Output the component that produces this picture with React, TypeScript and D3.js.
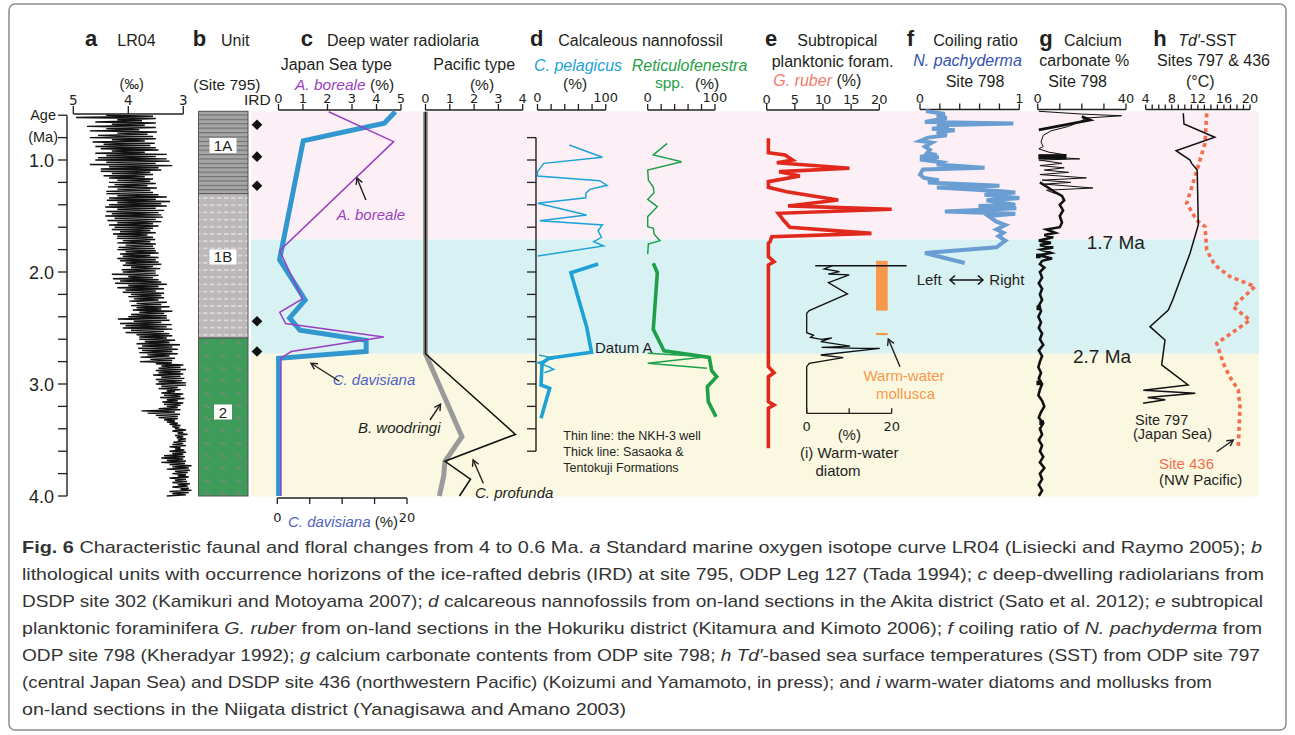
import React from "react";
import * as d3 from "d3";

// ------------------------------------------------------------------ DATA
// LR04 benthic d18O (permil), read every 0.01 Ma from 0.60 to 4.00 Ma
const LR04_START = 0.6;
const LR04_STEP = 0.01;
const LR04 = [
  4.4, 3.55, 4.95, 3.5, 4.2, 3.75, 4.6, 3.5, 4.3, 3.7,
  4.75, 3.5, 4.4, 3.8, 4.7, 3.48, 4.2, 3.65, 4.55, 3.55,
  4.7, 3.5, 4.3, 3.7, 4.65, 3.52, 4.45, 3.6, 4.6, 3.5,
  4.5, 3.45, 4.3, 3.7, 4.6, 3.3, 4.4, 3.5, 4.55, 3.3,
  4.6, 3.25, 4.4, 3.5, 4.7, 3.2, 4.35, 3.45, 4.5, 3.4,
  4.5, 3.6, 4.3, 3.55, 4.45, 3.7, 4.35, 3.55, 4.2, 3.6,
  4.35, 3.5, 4.25, 3.65, 4.37, 3.48, 4.2, 3.6, 4.4, 3.55,
  4.4, 3.45, 4.2, 3.3, 4.35, 3.5, 4.39, 3.24, 4.2, 3.4,
  4.35, 3.3, 4.42, 3.5, 4.2, 3.35, 4.4, 3.45, 4.3, 3.4,
  4.42, 3.37, 4.25, 3.5, 4.38, 3.4, 4.2, 3.55, 4.35, 3.45,
  4.25, 3.55, 4.3, 3.6, 4.15, 3.5, 4.28, 3.65, 4.2, 3.55,
  4.21, 3.51, 4.1, 3.6, 4.2, 3.5, 4.05, 3.55, 4.18, 3.52,
  4.2, 3.5, 4.05, 3.45, 4.15, 3.6, 4.1, 3.45, 4.2, 3.5,
  4.15, 3.45, 4.05, 3.4, 4.1, 3.55, 3.95, 3.42, 4.12, 3.5,
  4.1, 3.5, 4.3, 3.45, 4.0, 3.55, 4.28, 3.45, 4.15, 3.4,
  4.24, 3.3, 4.0, 3.45, 4.2, 3.35, 4.05, 3.5, 4.1, 3.35,
  3.95, 3.4, 4.0, 3.35, 3.9, 3.45, 3.98, 3.3, 3.85, 3.4,
  3.95, 3.25, 3.85, 3.4, 3.92, 3.2, 3.8, 3.35, 3.95, 3.3,
  4.0, 3.3, 4.19, 3.25, 3.9, 3.4, 4.15, 3.21, 4.05, 3.3,
  4.1, 3.2, 3.95, 3.35, 4.05, 3.25, 3.85, 3.2, 3.8, 3.3,
  3.8, 3.15, 3.7, 3.25, 3.85, 3.06, 3.75, 3.2, 3.82, 3.1,
  3.75, 3.2, 3.8, 3.1, 3.65, 3.25, 3.78, 3.15, 3.6, 3.2,
  3.79, 3.21, 3.5, 3.0, 3.4, 3.05, 3.45, 2.95, 3.5, 3.05,
  3.45, 3.0, 3.55, 3.05, 3.4, 2.98, 3.5, 3.02, 3.45, 2.95,
  3.5, 2.95, 3.4, 3.1, 3.45, 3.05, 3.3, 3.15, 3.4, 3.0,
  3.35, 3.05, 3.42, 2.98, 3.3, 3.1, 3.38, 3.0, 3.35, 3.05,
  3.3, 3.1, 3.45, 3.05, 3.76, 3.15, 3.65, 3.06, 3.5, 3.1,
  3.45, 3.1, 3.35, 3.15, 3.3, 3.1, 3.25, 3.05, 3.2, 3.1,
  3.15, 2.95, 3.2, 3.0, 3.1, 2.92, 3.15, 3.0, 3.12, 2.95,
  3.1, 2.95, 3.18, 3.0, 3.2, 2.95, 3.25, 3.05, 3.15, 2.98,
  3.25, 2.95, 3.2, 3.0, 3.35, 2.97, 3.4, 3.0, 3.3, 2.95,
  3.4, 2.97, 3.25, 2.85, 3.2, 2.9, 3.3, 2.88, 3.15, 2.92,
  3.2, 2.95, 3.1, 2.9, 3.25, 2.95, 3.15, 2.93, 3.2, 2.88,
  3.1, 2.92, 3.2, 2.9, 3.05, 2.85, 3.25, 2.9, 3.2, 2.95,
  3.3,
];

// Background intervals (Ma)
const BAND_EDGES = [0.565, 1.71, 2.73, 4.005];

// Lithological units at site 795 (Ma)
const UNITS = [
  { name: "1A", top: 0.565, bottom: 1.3, labelAge: 0.87 },
  { name: "1B", top: 1.3, bottom: 2.59, labelAge: 1.866 },
  { name: "2", top: 2.59, bottom: 4.0, labelAge: 3.25 },
];
const IRD_AGES = [0.685, 0.97, 1.23, 2.44, 2.71];

// c: deep water radiolaria  [age, %]
const C_DAVISIANA = [[0.569, 18.2], [0.672, 16.5], [0.828, 4.0], [1.89, 0.35], [2.25, 4.3], [2.41, 1.9], [2.52, 3.5], [2.61, 13.7], [2.71, 13.7], [2.77, 0.2], [4.0, 0.2]];
const A_BOREALE = [[0.569, 2.05], [0.836, 4.7], [1.81, 0.05], [2.24, 0.97], [2.36, 0.05], [2.46, 0.29], [2.58, 4.3], [2.71, 0.52], [2.77, 0.1], [4.0, 0.1]];
const B_WOODRINGI = [[0.569, 0], [2.73, 0], [3.47, 1.5], [3.69, 0.8], [3.82, 0.75], [4.0, 0.57]];
const C_PROFUNDA = [[0.569, 0], [2.73, 0], [3.45, 3.7], [3.69, 0.8], [3.85, 1.85], [4.0, 1.4]];

// d: calcareous nannofossils [age, %]
const PEL_THIN_UPPER = [[0.866, 46.6], [0.976, 95.2], [1.03, 9.2], [1.104, 0], [1.143, 0], [1.185, 91.2], [1.226, 101.9], [1.262, 76.7], [1.297, 70.9], [1.337, 70.9], [1.387, 0.4], [1.491, 72], [1.542, 3.3], [1.58, 95.2], [1.631, 88.8], [1.69, 93.7], [1.729, 82.5], [1.768, 96.9], [1.857, 0.4]];
const PEL_THIN_LOWER = [[2.741, 2], [2.77, 24], [2.81, 0], [2.846, 16.4], [2.869, 23.7], [2.899, 10]];
const PEL_THICK = [[1.929, 89], [2.006, 49], [2.488, 72], [2.717, 79.2], [2.77, 16.4], [2.815, 6.7], [3.009, 5.2], [3.038, 17.8], [3.306, 5.2]];
const RET_THIN_UPPER = [[0.851, 29], [0.955, 8.3], [1.015, 50.5], [1.089, 0], [1.179, 1], [1.244, 8.3], [1.292, 9.4], [1.351, 0], [1.417, 14.3], [1.506, 0], [1.595, 0], [1.61, 8.5], [1.66, 9.4], [1.72, 18.3], [1.75, 1], [1.839, 0]];
const RET_THIN_LOWER = [[2.726, 0], [2.756, 88], [2.815, 0], [2.86, 88]];
const RET_THICK = [[1.922, 8.3], [2.006, 14.3], [2.512, 8.3], [2.703, 24.2], [2.762, 91.5], [2.881, 95.1], [2.935, 102.5], [3.024, 88.6], [3.158, 90], [3.292, 101.5]];

// e: G. ruber [age, %]
const G_RUBER = [[0.806, 0.3], [0.935, 0.3], [0.955, 3.25], [1.0, 4.6], [1.024, 1.8], [1.074, 14.7], [1.104, 2.2], [1.143, 5.9], [1.193, 0.3], [1.244, 0.3], [1.283, 3.55], [1.357, 12.7], [1.41, 3.8], [1.44, 22.2], [1.476, 2.06], [1.536, 2.96], [1.601, 4.1], [1.655, 18.6], [1.685, 0.9], [1.729, 0.6], [1.744, 0.3], [1.863, 0.3], [1.908, 1.3], [1.938, 0.3], [2.845, 0.3], [2.899, 1.3], [2.935, 0.3], [3.158, 0.3], [3.188, 1.3], [3.217, 0.3], [3.574, 0.3]];

// i: warm-water diatom [age, %]
const DIATOM_TOP = [[1.944, 2.0], [1.944, 23.5]];
const DIATOM = [[1.944, 6.0], [1.952, 5.5], [1.973, 4.1], [1.997, 7.7], [2.018, 5.1], [2.025, 10.0], [2.095, 5.1], [2.196, 9.6], [2.345, 0.6], [2.369, 0], [2.542, 0], [2.565, 1.6], [2.583, 0.9], [2.601, 3.5], [2.589, 5.9], [2.622, 3.3], [2.661, 10.2], [2.673, 3.5], [2.682, 12.5], [2.682, 17.2], [2.741, 3.3], [2.765, 8.6], [2.8, 3.0], [2.815, 0.6], [2.845, 0], [3.262, 0]];
const MOLLUSCA_RANGE = [1.9, 2.345];
const MOLLUSCA_POINT = 2.554;

// f: coiling ratio [age, ratio]
const COILING = [[0.563, 0.06], [0.59, 0.25], [0.61, 0.17], [0.625, 0.27], [0.66, 0.05], [0.675, 0.94], [0.69, 0.17], [0.705, 0.29], [0.72, 0.12], [0.735, 0.35], [0.75, 0.17], [0.78, 0.27], [0.8, 0.08], [0.83, 0.0], [0.845, 0.12], [0.88, 0.05], [0.91, 0.1], [0.94, 0.07], [0.955, 0.17], [0.97, 0.0], [0.975, 0.19], [0.995, 0.0], [1.02, 0.22], [1.04, 0.17], [1.07, 0.65], [1.085, 0.03], [1.13, 0.0], [1.16, 0.04], [1.18, 0.19], [1.2, 0.08], [1.23, 0.8], [1.245, 0.17], [1.28, 0.82], [1.29, 0.96], [1.31, 0.65], [1.34, 1.0], [1.36, 0.67], [1.4, 0.96], [1.41, 0.59], [1.43, 0.97], [1.46, 0.25], [1.48, 0.96], [1.5, 0.69], [1.55, 0.77], [1.58, 0.86], [1.62, 0.77], [1.65, 0.84], [1.68, 0.79], [1.72, 0.86], [1.78, 0.77], [1.83, 0.05], [1.92, 0.45]];

// g: calcium carbonate [age, %]
const CA_THIN = [[0.565, 0.5], [0.59, 20], [0.605, 38], [0.625, 22], [0.66, 19], [0.7, 14], [0.74, 6], [0.78, 2.5], [0.81, 2], [0.84, 1.5], [0.88, 2.5], [0.9, 0.5], [0.93, 5], [0.955, 13], [0.965, 0.5], [0.99, 19], [1.0, 0.5], [1.03, 11], [1.05, 1], [1.07, 12], [1.09, 3], [1.11, 14], [1.13, 1], [1.16, 22], [1.18, 2], [1.2, 15], [1.215, 3], [1.25, 25], [1.27, 4], [1.3, 8]];
const CA_THICK_TOP = [[0.613, 20], [0.643, 23.7], [0.732, 0.5]];
const CA_BLOCK = [[0.97, 0.3], [0.97, 13]];
const CA_THICK = [[1.2, 1], [1.25, 5], [1.29, 8], [1.32, 11], [1.36, 12], [1.4, 10], [1.45, 11.5], [1.5, 10], [1.56, 11], [1.6, 10], [1.62, 4], [1.65, 8], [1.67, 3], [1.69, 7], [1.72, 0.5], [1.74, 6], [1.76, 1], [1.78, 7], [1.8, 1.5], [1.83, 6], [1.85, 0.5], [1.88, 6.5], [1.9, 2], [1.93, 1], [1.96, 3], [2.0, 1], [2.05, 2], [2.1, 0.5], [2.15, 2], [2.2, 1], [2.25, 2], [2.3, 0.5], [2.35, 1.5], [2.4, 0.3], [2.45, 1.5], [2.5, 0.5], [2.55, 2], [2.6, 1], [2.65, 2.5], [2.7, 0.5], [2.75, 2], [2.8, 1], [2.85, 0.3], [2.9, 1.5], [2.95, 0.5], [3.0, 2], [3.05, 1], [3.1, 0.3], [3.15, 2], [3.2, 3], [3.25, 1.5], [3.3, 0.5], [3.35, 2.5], [3.4, 1], [3.45, 2], [3.5, 0.5], [3.55, 2], [3.6, 1], [3.65, 2.5], [3.7, 1], [3.75, 3], [3.8, 1], [3.85, 2], [3.9, 0.5], [3.95, 2], [4.0, 0.5]];
const CA_SQUARES = [[1.857, 0.3], [2.32, 0.5], [2.99, 0.5], [3.345, 1.8]];

// h: Td'-SST [age, degC]
const SST_797 = [[0.583, 9.77], [0.679, 9.87], [0.797, 14.6], [0.917, 8.65], [1.0, 10.8], [1.03, 11.05], [1.089, 11.9], [1.58, 12.07], [1.833, 10.8], [2.25, 8.14], [2.339, 7.47], [2.488, 4.66], [2.607, 6.96], [2.83, 6.45], [3.009, 10.5], [3.056, 3.63], [3.083, 11.6], [3.12, 4.3], [3.14, 7.0], [3.172, 3.6]];
const SST_436 = [[0.583, 13.36], [0.851, 13.1], [1.0, 12.33], [1.149, 11.56], [1.387, 10.3], [1.536, 11.8], [1.595, 13.1], [1.804, 13.36], [1.938, 14.6], [2.04, 16.9], [2.13, 20.77], [2.31, 17.4], [2.43, 20], [2.637, 14.9], [2.815, 15.9], [2.935, 16.9], [3.054, 18.2], [3.2, 18.46], [3.574, 18.2]];

// tick values
const AGE_LABELS = [1.0, 2.0, 3.0, 4.0];
const LR04_TICKS = [5, 4, 3];
const ABO_TICKS = [0, 1, 2, 3, 4, 5];
const PAC_TICKS = [0, 1, 2, 3, 4];
const DAV_TICKS = [0, 5, 10, 15, 20];
const DAV_LABELS = [0, 20];
const PCT100_TICKS = [0, 20, 40, 60, 80, 100];
const PCT100_LABELS = [0, 100];
const RUBER_TICKS = [0, 5, 10, 15, 20];
const DIATOM_TICKS = [0, 10, 20];
const DIATOM_LABELS = [0, 20];
const COIL_TICKS = [0, 0.2, 0.4, 0.6, 0.8, 1];
const COIL_LABELS = [0, 1];
const CA_TICKS = [0, 10, 20, 30, 40];
const CA_LABELS = [0, 40];
const SST_TICKS = d3.range(4, 21, 1);
const SST_LABELS = [4, 8, 12, 16, 20];

const CAPTION = [
  [["b", "Fig. 6"], ["n", " Characteristic faunal and floral changes from 4 to 0.6 Ma. "], ["i", "a"], ["n", " Standard marine oxygen isotope curve LR04 (Lisiecki and Raymo 2005); "], ["i", "b"]],
  [["n", "lithological units with occurrence horizons of the ice-rafted debris (IRD) at site 795, ODP Leg 127 (Tada 1994); "], ["i", "c"], ["n", " deep-dwelling radiolarians from"]],
  [["n", "DSDP site 302 (Kamikuri and Motoyama 2007); "], ["i", "d"], ["n", " calcareous nannofossils from on-land sections in the Akita district (Sato et al. 2012); "], ["i", "e"], ["n", " subtropical"]],
  [["n", "planktonic foraminifera "], ["i", "G. ruber"], ["n", " from on-land sections in the Hokuriku district (Kitamura and Kimoto 2006); "], ["i", "f"], ["n", " coiling ratio of "], ["i", "N. pachyderma"], ["n", " from"]],
  [["n", "ODP site 798 (Kheradyar 1992); "], ["i", "g"], ["n", " calcium carbonate contents from ODP site 798; "], ["i", "h Td′"], ["n", "-based sea surface temperatures (SST) from ODP site 797"]],
  [["n", "(central Japan Sea) and DSDP site 436 (northwestern Pacific) (Koizumi and Yamamoto, in press); and "], ["i", "i"], ["n", " warm-water diatoms and mollusks from"]],
  [["n", "on-land sections in the Niigata district (Yanagisawa and Amano 2003)"]],
];
const CAPTION_WIDTHS = [1240, 1242, 1241, 1240, 1238, 1190, 604];

// ------------------------------------------------------------------ STYLE
const FONT = '"Liberation Sans", Arial, Helvetica, sans-serif';
const NUMFONT = '"DejaVu Sans", "Liberation Sans", Arial, sans-serif';
const INK = "#231f20";
const COL = {
  pink: "#fcf0f6",
  cyan: "#d8f2f4",
  yellow: "#fbf8e2",
  davis: "#3397cf",
  davisText: "#5062c2",
  boreale: "#9b3fc2",
  pacGray: "#9a9a9a",
  pel: "#1ea2d6",
  ret: "#1ea04a",
  retText: "#27a045",
  ruber: "#e0281c",
  ruberText: "#f27a6c",
  coil: "#6a9dd2",
  pachText: "#3553ad",
  sst436: "#f46d4c",
  moll: "#f7984a",
};
const BAND_COLORS = [COL.pink, COL.cyan, COL.yellow];

// ------------------------------------------------------------------ SCALES
const yAge = d3.scaleLinear().domain([1, 4]).range([160, 496]);
const xLR = d3.scaleLinear().domain([5, 3]).range([73.3, 183.3]);
const xAbo = d3.scaleLinear().domain([0, 5]).range([278.5, 401]);
const xDav = d3.scaleLinear().domain([0, 20]).range([277.3, 407]);
const xPac = d3.scaleLinear().domain([0, 4]).range([425.5, 522.7]);
const xPel = d3.scaleLinear().domain([0, 100]).range([537.5, 605.7]);
const xRet = d3.scaleLinear().domain([0, 100]).range([647.7, 715]);
const xRub = d3.scaleLinear().domain([0, 20]).range([766.7, 879.3]);
const xDia = d3.scaleLinear().domain([0, 20]).range([806.7, 891.7]);
const xCoil = d3.scaleLinear().domain([0, 1]).range([920, 1019.3]);
const xCa = d3.scaleLinear().domain([0, 40]).range([1037.7, 1126]);
const xSst = d3.scaleLinear().domain([4, 20]).range([1145.7, 1250]);

const BAND_X0 = 251;
const BAND_X1 = 1259;

function linePath(xs: any, data: number[][]) {
  return d3
    .line<number[]>()
    .x((d) => xs(d[1]))
    .y((d) => yAge(d[0]))(data) as string;
}

// ------------------------------------------------------------------ HELPERS
function T(props: any) {
  const { children, size = 16, anchor = "start", color = INK, weight, italic, family, ...rest } = props;
  return (
    <text
      fontFamily={family || FONT}
      fontSize={size}
      textAnchor={anchor}
      fill={color}
      fontWeight={weight}
      fontStyle={italic ? "italic" : undefined}
      {...rest}
    >
      {children}
    </text>
  );
}

function HAxis({ scale, y, ticks, labels, tickLen = 6, dir = -1, labelY, fmt, size = 13 }: any) {
  const r = scale.range();
  const x0 = Math.min(r[0], r[1]);
  const x1 = Math.max(r[0], r[1]);
  return (
    <g>
      <line x1={x0} x2={x1} y1={y} y2={y} stroke={INK} strokeWidth={1.4} />
      {ticks.map((t: number) => (
        <line key={"t" + t} x1={scale(t)} x2={scale(t)} y1={y} y2={y + dir * tickLen} stroke={INK} strokeWidth={1.3} />
      ))}
      {labels.map((t: number) => (
        <text key={"l" + t} x={scale(t)} y={labelY} textAnchor="middle" fontFamily={NUMFONT} fontSize={size} fill={INK}>
          {fmt ? fmt(t) : String(t)}
        </text>
      ))}
    </g>
  );
}

function Arrow({ x1, y1, x2, y2, color = INK }: any) {
  const a = Math.atan2(y2 - y1, x2 - x1);
  const L = 7;
  const s = 0.5;
  const p1 = [x2 - L * Math.cos(a - s), y2 - L * Math.sin(a - s)];
  const p2 = [x2 - L * Math.cos(a + s), y2 - L * Math.sin(a + s)];
  return (
    <g stroke={color} strokeWidth={1.4} fill="none">
      <line x1={x1} y1={y1} x2={x2} y2={y2} />
      <polyline points={`${p1[0]},${p1[1]} ${x2},${y2} ${p2[0]},${p2[1]}`} />
    </g>
  );
}

// ------------------------------------------------------------------ APP
export default function App() {
  const ageTicks = d3.range(0.6, 4.001, 0.2);
  const dTicks = d3.range(0.8, 3.601, 0.2);
  const lrData = LR04.map((v, i) => [LR04_START + i * LR04_STEP, v]);
  const diamond = d3.symbol().type(d3.symbolDiamond2).size(72)() as string;
  const square = d3.symbol().type(d3.symbolSquare).size(22)() as string;

  return (
    <div style={{ position: "absolute", left: 0, top: 0 }}>
      <svg width={1295} height={735} viewBox="0 0 1295 735" style={{ display: "block", background: "#fff" }}>
        <defs>
          <pattern id="p1A" width={8} height={4.4} patternUnits="userSpaceOnUse">
            <rect width={8} height={4.4} fill="#a6a6a6" />
            <line x1={0} x2={8} y1={0.6} y2={0.6} stroke="#6c6c6c" strokeWidth={1.1} />
          </pattern>
          <pattern id="p1B" width={14} height={7.2} patternUnits="userSpaceOnUse">
            <rect width={14} height={7.2} fill="#bcb8b9" />
            <line x1={0} x2={14} y1={3.6} y2={3.6} stroke="#e6e3e4" strokeWidth={1.2} strokeDasharray="4.5,2.5" />
          </pattern>
          <pattern id="p2" width={16} height={12.5} patternUnits="userSpaceOnUse" x={201}>
            <rect width={16} height={12.5} fill="#3f9b59" />
            <path d="M3,6 q1.5,-2.4 3,0 t3,0" stroke="#b07aa8" strokeWidth={0.8} fill="none" />
          </pattern>
        </defs>

        {/* figure frame */}
        <rect x={9} y={4} width={1277} height={726} rx={6} fill="none" stroke="#8c8c8c" strokeWidth={1.5} />

        {/* background bands */}
        {BAND_COLORS.map((c, i) => (
          <rect key={i} x={BAND_X0} width={BAND_X1 - BAND_X0} y={yAge(BAND_EDGES[i])} height={yAge(BAND_EDGES[i + 1]) - yAge(BAND_EDGES[i])} fill={c} />
        ))}

        {/* ---------------- Age axis ---------------- */}
        <line x1={67} x2={67} y1={yAge(0.6)} y2={yAge(4.0)} stroke={INK} strokeWidth={1.4} />
        {ageTicks.map((t) => (
          <line key={t} x1={58} x2={67} y1={yAge(t)} y2={yAge(t)} stroke={INK} strokeWidth={1.3} />
        ))}
        {AGE_LABELS.map((t) => (
          <T key={t} x={54} y={yAge(t) + 6.5} size={18} anchor="end">{t.toFixed(1)}</T>
        ))}
        <T x={56} y={119.5} size={14.5} anchor="end">Age</T>
        <T x={58} y={142} size={14.5} anchor="end">(Ma)</T>

        {/* ---------------- a LR04 ---------------- */}
        <T x={85} y={46} size={22} weight="bold">a</T>
        <T x={117.3} y={46} size={16}>LR04</T>
        <T x={131.7} y={88.5} size={14.5} anchor="middle">(‰)</T>
        <HAxis scale={xLR} y={114} ticks={LR04_TICKS} labels={LR04_TICKS} tickLen={8} labelY={104.5} size={13.5} />
        <path d={linePath(xLR, lrData)} fill="none" stroke="#111" strokeWidth={1.45} strokeLinejoin="miter" />

        {/* ---------------- b Unit ---------------- */}
        <T x={192.7} y={46} size={22} weight="bold">b</T>
        <T x={221} y={46} size={16}>Unit</T>
        <T x={193.3} y={90} size={15.5}>(Site 795)</T>
        <T x={244} y={105} size={15.5}>IRD</T>
        {UNITS.map((u, i) => (
          <rect key={u.name} x={198.5} width={49.5} y={yAge(u.top)} height={yAge(u.bottom) - yAge(u.top)} fill={`url(#${["p1A", "p1B", "p2"][i]})`} stroke="#555" strokeWidth={1} />
        ))}
        {UNITS.map((u) => {
          const w = u.name.length * 9 + 9;
          return (
            <g key={"l" + u.name}>
              <rect x={223 - w / 2} y={yAge(u.labelAge) - 7.5} width={w} height={15} fill="#fff" />
              <T x={223} y={yAge(u.labelAge) + 5.5} size={15} anchor="middle">{u.name}</T>
            </g>
          );
        })}
        {IRD_AGES.map((a) => (
          <path key={a} d={diamond} transform={`translate(257,${yAge(a)})`} fill="#111" />
        ))}

        {/* ---------------- c Deep water radiolaria ---------------- */}
        <T x={300.7} y={46} size={22} weight="bold">c</T>
        <T x={327} y={46} size={16}>Deep water radiolaria</T>
        <T x={280.7} y={70} size={16}>Japan Sea type</T>
        <T x={295} y={90} size={15.5}>
          <tspan fill={COL.boreale} fontStyle="italic">A. boreale</tspan> (%)
        </T>
        <T x={433.3} y={70} size={16}>Pacific type</T>
        <T x={482} y={90} size={15.5} anchor="middle">(%)</T>
        <HAxis scale={xAbo} y={110} ticks={ABO_TICKS} labels={ABO_TICKS} labelY={102.5} />
        <HAxis scale={xPac} y={110} ticks={PAC_TICKS} labels={PAC_TICKS} labelY={102.5} />
        <HAxis scale={xDav} y={498} ticks={DAV_TICKS} labels={DAV_LABELS} dir={1} labelY={522} />
        <T x={288} y={527} size={15}>
          <tspan fill={COL.davisText} fontStyle="italic">C. davisiana</tspan> (%)
        </T>
        <path d={linePath(xDav, C_DAVISIANA)} fill="none" stroke={COL.davis} strokeWidth={5} strokeLinejoin="miter" />
        <path d={linePath(xAbo, A_BOREALE)} fill="none" stroke={COL.boreale} strokeWidth={1.5} />
        <path d={linePath(xPac, B_WOODRINGI)} fill="none" stroke={COL.pacGray} strokeWidth={5} />
        <path d={linePath(xPac, C_PROFUNDA)} fill="none" stroke="#111" strokeWidth={1.6} />
        <T x={336.7} y={219.5} size={15} italic color={COL.boreale}>A. boreale</T>
        <Arrow x1={xAbo(3.2) + 9} y1={yAge(1.16) + 22} x2={xAbo(3.2)} y2={yAge(1.16)} />
        <T x={332.7} y={384.5} size={15} italic color={COL.davisText}>C. davisiana</T>
        <Arrow x1={xDav(7.4) + 14} y1={yAge(2.77) + 23} x2={xDav(5.2)} y2={yAge(2.77) + 5} />
        <T x={358} y={433} size={15} italic>B. woodringi</T>
        <Arrow x1={430} y1={420} x2={xPac(0.62)} y2={yAge(3.18)} />
        <T x={475} y={498} size={15} italic>C. profunda</T>
        <Arrow x1={483.3} y1={483.3} x2={xPac(1.96)} y2={yAge(3.66) + 2} />

        {/* ---------------- d Calcareous nannofossil ---------------- */}
        <T x={530} y={46} size={22} weight="bold">d</T>
        <T x={558.3} y={46} size={16}>Calcaleous nannofossil</T>
        <T x={534} y={70.5} size={16} italic color={COL.pel}>C. pelagicus</T>
        <T x={563} y={89} size={15.5}>(%)</T>
        <T x={631.7} y={70.5} size={16} italic color={COL.retText}>Reticulofenestra</T>
        <T x={655} y={88} size={15.5} color={COL.retText}>spp.</T>
        <T x={695} y={89} size={15.5}>(%)</T>
        <HAxis scale={xPel} y={110} ticks={PCT100_TICKS} labels={PCT100_LABELS} tickLen={6} labelY={101.5} />
        <HAxis scale={xRet} y={110} ticks={PCT100_TICKS} labels={PCT100_LABELS} tickLen={6} labelY={101.5} />
        <line x1={536} x2={536} y1={yAge(0.8)} y2={yAge(3.6)} stroke={INK} strokeWidth={1.4} />
        {dTicks.map((t) => (
          <line key={t} x1={527} x2={536} y1={yAge(t)} y2={yAge(t)} stroke={INK} strokeWidth={1.3} />
        ))}
        <path d={linePath(xPel, PEL_THIN_UPPER)} fill="none" stroke={COL.pel} strokeWidth={1.5} />
        <path d={linePath(xPel, PEL_THIN_LOWER)} fill="none" stroke={COL.pel} strokeWidth={1.5} />
        <path d={linePath(xPel, PEL_THICK)} fill="none" stroke={COL.pel} strokeWidth={3.6} />
        <path d={linePath(xRet, RET_THIN_UPPER)} fill="none" stroke={COL.ret} strokeWidth={1.5} />
        <path d={linePath(xRet, RET_THIN_LOWER)} fill="none" stroke={COL.ret} strokeWidth={1.5} />
        <path d={linePath(xRet, RET_THICK)} fill="none" stroke={COL.ret} strokeWidth={3.6} />
        <T x={595} y={352.5} size={15}>Datum A</T>
        <T x={563.3} y={439.5} size={12.5}>Thin line: the NKH-3 well</T>
        <T x={563.3} y={455.5} size={12.5}>Thick line: Sasaoka &amp;</T>
        <T x={563.3} y={471.5} size={12.5}>Tentokuji Formations</T>

        {/* ---------------- e Subtropical planktonic foram. ---------------- */}
        <T x={765} y={46} size={22} weight="bold">e</T>
        <T x={797.3} y={46} size={16}>Subtropical</T>
        <T x={771.7} y={66.5} size={16}>planktonic foram.</T>
        <T x={773.3} y={86} size={16}>
          <tspan fill={COL.ruberText} fontStyle="italic">G. ruber</tspan> (%)
        </T>
        <HAxis scale={xRub} y={110} ticks={RUBER_TICKS} labels={RUBER_TICKS} labelY={103.5} />
        <path d={linePath(xRub, G_RUBER)} fill="none" stroke={COL.ruber} strokeWidth={3.6} strokeLinejoin="miter" />

        {/* i warm-water diatom & mollusca */}
        <rect x={876} width={11.7} y={yAge(MOLLUSCA_RANGE[0])} height={yAge(MOLLUSCA_RANGE[1]) - yAge(MOLLUSCA_RANGE[0])} fill={COL.moll} />
        <line x1={876} x2={887.7} y1={yAge(MOLLUSCA_POINT)} y2={yAge(MOLLUSCA_POINT)} stroke={COL.moll} strokeWidth={2.2} />
        <path d={linePath(xDia, DIATOM_TOP)} fill="none" stroke="#111" strokeWidth={1.6} />
        <path d={linePath(xDia, DIATOM)} fill="none" stroke="#111" strokeWidth={1.3} />
        <HAxis scale={xDia} y={yAge(3.262)} ticks={DIATOM_TICKS} labels={DIATOM_LABELS} tickLen={5} labelY={431} />
        <T x={849.3} y={439.5} size={15} anchor="middle">(%)</T>
        <T x={849.3} y={458} size={15} anchor="middle">(i) Warm-water</T>
        <T x={838} y={475.5} size={15} anchor="middle">diatom</T>
        <Arrow x1={900} y1={366.7} x2={888.3} y2={yAge(MOLLUSCA_POINT) + 5} />
        <T x={904} y={380.5} size={15} anchor="middle" color={COL.moll}>Warm-water</T>
        <T x={905.5} y={398.5} size={15} anchor="middle" color={COL.moll}>mollusca</T>

        {/* ---------------- f Coiling ratio ---------------- */}
        <T x={906.7} y={45.5} size={22} weight="bold">f</T>
        <T x={933.3} y={45.5} size={16}>Coiling ratio</T>
        <T x={913.3} y={66} size={16} italic color={COL.pachText}>N. pachyderma</T>
        <T x={945.7} y={86.5} size={16}>Site 798</T>
        <HAxis scale={xCoil} y={109.5} ticks={COIL_TICKS} labels={COIL_LABELS} labelY={102.5} />
        <path d={linePath(xCoil, COILING)} fill="none" stroke={COL.coil} strokeWidth={4} strokeLinejoin="miter" />
        <T x={916.7} y={285} size={15}>Left</T>
        <g stroke="#111" strokeWidth={1.5} fill="none">
          <line x1={950} x2={983} y1={280} y2={280} />
          <polyline points="955,275.5 950,280 955,284.5" />
          <polyline points="978,275.5 983,280 978,284.5" />
        </g>
        <T x={989.3} y={285} size={15}>Right</T>

        {/* ---------------- g Calcium carbonate ---------------- */}
        <T x={1039.3} y={45.5} size={22} weight="bold">g</T>
        <T x={1064} y={45.5} size={16}>Calcium</T>
        <T x={1039.3} y={66} size={16}>carbonate %</T>
        <T x={1048.3} y={86.5} size={16}>Site 798</T>
        <HAxis scale={xCa} y={109.5} ticks={CA_TICKS} labels={CA_LABELS} labelY={102.5} />
        <path d={linePath(xCa, CA_THIN)} fill="none" stroke="#111" strokeWidth={1} />
        <path d={linePath(xCa, CA_THICK_TOP)} fill="none" stroke="#111" strokeWidth={2.8} />
        <path d={linePath(xCa, CA_BLOCK)} fill="none" stroke="#111" strokeWidth={5} />
        <path d={linePath(xCa, CA_THICK)} fill="none" stroke="#111" strokeWidth={2.6} />
        {CA_SQUARES.map((d) => (
          <path key={d[0]} d={square} transform={`translate(${xCa(d[1])},${yAge(d[0])})`} fill="#111" />
        ))}
        <T x={1086.7} y={248.5} size={19}>1.7 Ma</T>
        <T x={1073} y={362.5} size={19}>2.7 Ma</T>

        {/* ---------------- h Td'-SST ---------------- */}
        <T x={1153.3} y={45.5} size={22} weight="bold">h</T>
        <T x={1178.3} y={45.5} size={16}>
          <tspan fontStyle="italic">Td′</tspan>-SST
        </T>
        <T x={1157} y={66} size={16}>Sites 797 &amp; 436</T>
        <T x={1186} y={86.5} size={16}>(°C)</T>
        <HAxis scale={xSst} y={109.5} ticks={SST_TICKS} labels={SST_LABELS} tickLen={5} labelY={102.5} />
        <path d={linePath(xSst, SST_436)} fill="none" stroke={COL.sst436} strokeWidth={3.6} strokeDasharray="4,3.5" />
        <path d={linePath(xSst, SST_797)} fill="none" stroke="#111" strokeWidth={1.5} />
        <T x={1135} y={425} size={14.5}>Site 797</T>
        <T x={1133} y={438.5} size={14.5}>(Japan Sea)</T>
        <Arrow x1={1216.7} y1={451.7} x2={xSst(18.2) - 5} y2={yAge(3.5)} />
        <T x={1159} y={468.5} size={15} color={COL.sst436}>Site 436</T>
        <T x={1159} y={485} size={15}>(NW Pacific)</T>

        {/* ---------------- caption ---------------- */}
        {CAPTION.map((line, i) => (
          <text
            key={i}
            x={22}
            y={553 + i * 27}
            fontFamily={FONT}
            fontSize={17}
            fill="#333"
            textLength={CAPTION_WIDTHS[i]}
            lengthAdjust="spacingAndGlyphs"
          >
            {line.map((seg, j) => (
              <tspan key={j} fontWeight={seg[0] === "b" ? "bold" : undefined} fontStyle={seg[0] === "i" ? "italic" : undefined}>
                {seg[1]}
              </tspan>
            ))}
          </text>
        ))}
      </svg>
    </div>
  );
}
